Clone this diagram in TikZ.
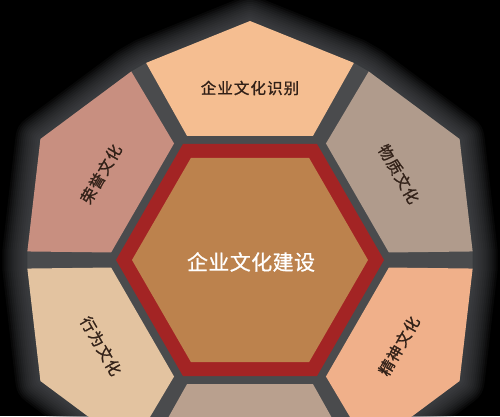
\documentclass[tikz,border=0pt]{standalone}
\usepackage{fontspec}
\setmainfont{Noto Sans CJK SC}
\newfontfamily\petalfont[FakeBold=1.2,LetterSpace=7]{Noto Sans CJK SC}
\newfontfamily\corefont[FakeBold=0.8,LetterSpace=2]{Noto Sans CJK SC}
\definecolor{bgblack}{RGB}{0,0,0}
\definecolor{bandgray}{RGB}{74,75,77}
\definecolor{glowgray}{RGB}{82,85,88}
\definecolor{hexred}{RGB}{163,36,36}
\definecolor{hexfill}{RGB}{188,130,77}
\definecolor{ptop}{RGB}{245,190,145}
\definecolor{pur}{RGB}{176,155,140}
\definecolor{plr}{RGB}{240,176,138}
\definecolor{pbot}{RGB}{185,160,142}
\definecolor{pll}{RGB}{227,195,160}
\definecolor{pul}{RGB}{200,143,128}
\definecolor{labeltext}{RGB}{50,33,24}
\tikzset{
  petal label/.style={font=\petalfont\fontsize{15.5}{16}\selectfont, text=labeltext, inner sep=0pt},
  centre label/.style={font=\corefont\fontsize{21}{22}\selectfont, text=white, inner sep=0pt},
}
\begin{document}
\begin{tikzpicture}[x=1pt,y=1pt]
\useasboundingbox (-250,-156) rectangle (250,260);
\clip (-250,-156) rectangle (250,260);
\fill[bgblack] (-250,-156) rectangle (250,260);
% outer outline (glow + gray band)
\def\outline{(90-27.8:222.8) -- (90:239) -- (90+27.8:222.8)
  -- (150-27.8:222.8) -- (150:242) -- (150+27.8:222.8)
  -- (210-27.8:222.8) -- (210:242) -- (210+27.8:222.8)
  -- (270-27.8:222.8) -- (270:242) -- (270+27.8:222.8)
  -- (330-27.8:222.8) -- (330:242) -- (330+27.8:222.8)
  -- (30-27.8:222.8) -- (30:242) -- (30+27.8:222.8) -- cycle}
\foreach \w in {50,46,...,6}{
  \draw[glowgray, line width=\w pt, line join=round, opacity=0.1] \outline;
}
\fill[bandgray] \outline;
% petals
\foreach \p/\c/\a in {90/ptop/239, 30/pur/242, -30/plr/242, -90/pbot/242, 210/pll/242, 150/pul/242}{
  \fill[\c] (\p-26.9:139.1) -- (\p-27.8:222.8) -- (\p:\a) -- (\p+27.8:222.8) -- (\p+26.9:139.1) -- cycle;
}
% central hexagon
\fill[hexred] (0:134) -- (60:134) -- (120:134) -- (180:134) -- (240:134) -- (300:134) -- cycle;
\fill[hexfill] (0:118) -- (60:118) -- (120:118) -- (180:118) -- (240:118) -- (300:118) -- cycle;
% labels
\node[centre label] (core) at (1,-2) {企业文化建设};
\node[petal label] (ident) at (90:172) {企业文化识别};
\node[petal label, rotate=-60] (mat) at (30:172) {物质文化};
\node[petal label, rotate=60] (spirit) at (-30:172) {精神文化};
\node[petal label, rotate=-60] (behav) at (210:172) {行为文化};
\node[petal label, rotate=60] (honor) at (150:172) {荣誉文化};
\end{tikzpicture}
\end{document}
